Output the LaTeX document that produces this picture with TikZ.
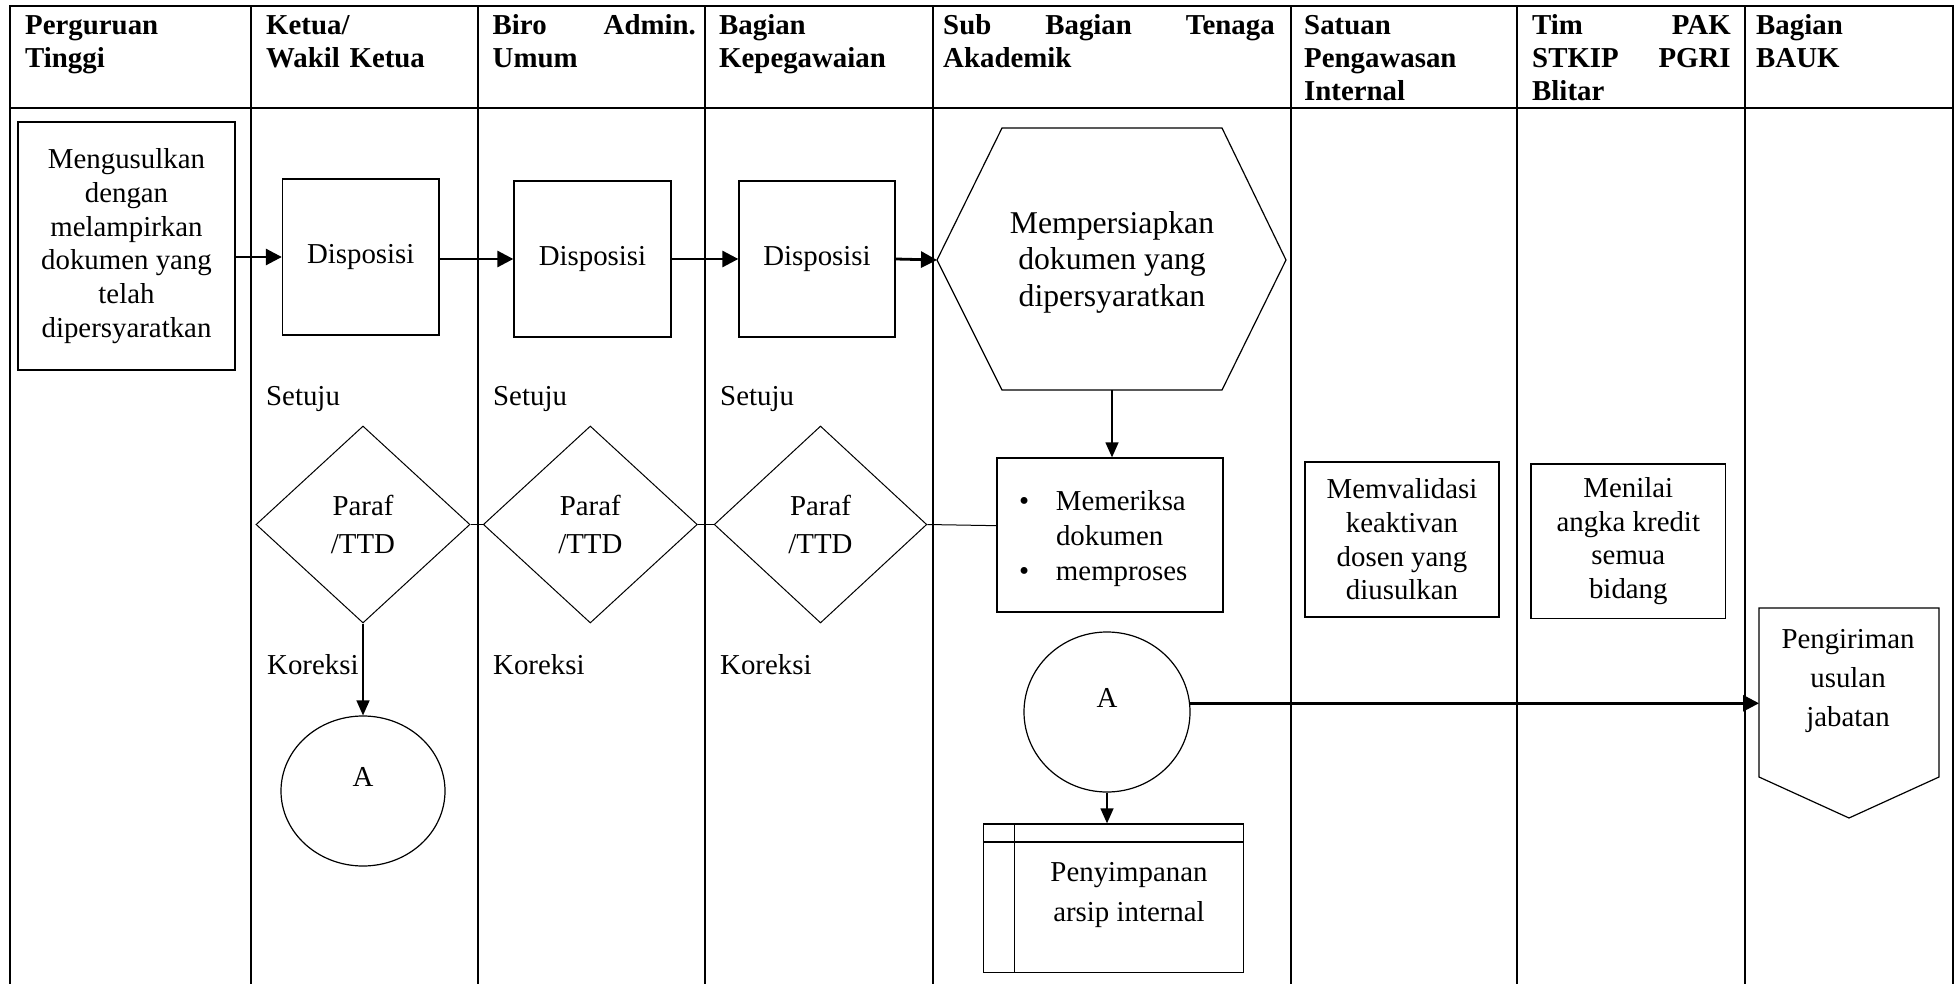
\documentclass[tikz,border=0pt]{standalone}
\usepackage{fontspec}
\setmainfont{Liberation Serif}
\usetikzlibrary{arrows.meta,shapes.geometric,calc}

\begin{document}
\begin{tikzpicture}[x=1pt,y=-1pt,
  txt/.style={inner sep=0pt, font=\fontsize{28.85}{33.7}\selectfont},
  head/.style={inner sep=0pt, anchor=base west, align=left,
    font=\fontsize{28.85}{33}\selectfont\bfseries},
  lane/.style={line width=2pt, line cap=rect},
  box/.style={draw, line width=1.3pt, inner sep=2pt, align=center,
    font=\fontsize{28.85}{33.7}\selectfont},
  dia/.style={diamond, draw, line width=1pt, inner sep=0pt, align=center,
    font=\fontsize{28.85}{38.7}\selectfont},
  circ/.style={ellipse, draw, line width=1.2pt, inner sep=0pt,
    text height=0pt, text depth=10pt, font=\fontsize{28.85}{33.7}\selectfont},
  shapeline/.style={line width=1.2pt, line join=miter},
  link/.style={line width=1pt},
  thickarr/.style={line width=2.8pt, -{Triangle[length=16pt,width=16pt]}},
  thinarr/.style={line width=1.4pt, -{Triangle[length=15pt,width=13pt]}}
]
\useasboundingbox (0,0) rectangle (1959,984);

% ---- swimlane table ----
\foreach \lx in {10,250.7,478.3,705,933,1290.7,1517.3,1745,1953.3}
  \draw[lane] (\lx,6) -- (\lx,984);
\draw[lane] (10,6) -- (1953.3,6);
\draw[lane] (10,108) -- (1953.3,108);

% ---- lane headers ----
\node[head, text width=213pt] (h1) at (25,35) {Perguruan\\Tinggi};
\node[head, text width=200pt] (h2) at (266,35) {Ketua/\\Wakil Ketua};
\node[head, text width=203.2pt] (h3) at (492.5,35) {Biro\hfill Admin.\\Umum};
\node[head, text width=200pt] (h4) at (719,35) {Bagian\\Kepegawaian};
\node[head, text width=331.5pt] (h5) at (943,35) {Sub\hfill Bagian\hfill Tenaga\\Akademik};
\node[head, text width=200pt] (h6) at (1304,35) {Satuan\\Pengawasan\\Internal};
\node[head, text width=198.5pt] (h7) at (1532,35) {Tim\hfill PAK\\STKIP\hfill PGRI\\Blitar};
\node[head, text width=185pt] (h8) at (1756,35) {Bagian\\BAUK};

% ---- submission and dispositions ----
\node[box, minimum width=217pt, minimum height=248pt] (usul) at (126.5,246)
  {Mengusulkan\\dengan\\melampirkan\\dokumen yang\\telah\\dipersyaratkan};
\node[box, minimum width=156.5pt, minimum height=156pt] (dis1) at (360.75,257) {Disposisi};
\node[box, minimum width=157pt, minimum height=156pt] (dis2) at (592.5,259) {Disposisi};
\node[box, minimum width=156pt, minimum height=156pt] (dis3) at (817,259) {Disposisi};

% ---- preparation (hexagon) ----
\coordinate (hxW) at (937,260);
\coordinate (hxNW) at (1002,128);
\coordinate (hxNE) at (1222,128);
\coordinate (hxE) at (1286,260);
\coordinate (hxSE) at (1222,390);
\coordinate (hxSW) at (1002,390);
\coordinate (hxS) at (1112,390);
\draw[shapeline] (hxW) -- (hxNW) -- (hxNE) -- (hxE) -- (hxSE) -- (hxSW) -- cycle;
% base anchor of a multi-line node sits on its last line
\node[inner sep=0pt, align=center, anchor=base, font=\fontsize{31.7}{36.8}\selectfont]
  (prep) at (1112,306.7) {Mempersiapkan\\dokumen yang\\dipersyaratkan};

\draw[thickarr] (usul.east |- dis1.west) -- (dis1.west);
\draw[thickarr] (dis1.east |- dis2.west) -- (dis2.west);
\draw[thickarr] (dis2.east) -- (dis3.west);
\draw[thickarr] (dis3.east) -- (hxW);

% ---- approval diamonds ----
\node[dia, minimum width=214pt, minimum height=197pt] (p1) at (363,524.5) {Paraf\\/TTD};
\node[dia, minimum width=214pt, minimum height=197pt] (p2) at (590.3,524.5) {Paraf\\/TTD};
\node[dia, minimum width=212.6pt, minimum height=197pt] (p3) at (820.5,524.5) {Paraf\\/TTD};

\node[txt, anchor=base west] (s1) at (266,405) {Setuju};
\node[txt, anchor=base west] (s2) at (493,405) {Setuju};
\node[txt, anchor=base west] (s3) at (720,405) {Setuju};
\node[txt, anchor=base west] (k1) at (267,674) {Koreksi};
\node[txt, anchor=base west] (k2) at (493,674) {Koreksi};
\node[txt, anchor=base west] (k3) at (720,674) {Koreksi};

% ---- checking / processing ----
\node[draw, line width=1.3pt, minimum width=226pt, minimum height=154pt,
  text width=182pt, inner xsep=22pt, inner ysep=2pt, align=left,
  font=\fontsize{28.85}{35}\selectfont] (chk) at (1110,535)
  {\rule{0pt}{28pt}\makebox[37pt][l]{\textbullet}Memeriksa\\\hspace*{37pt}dokumen\\\makebox[37pt][l]{\textbullet}memproses};

\draw[thinarr] (hxS) -- (hxS |- chk.north);
\draw[link] (p1.east) -- (p2.west);
\draw[link] (p2.east) -- (p3.west);
\draw[link] (p3.east) -- ($(chk.north west)!0.44!(chk.south west)$);

\node[box, minimum width=194pt, minimum height=155pt] (valid) at (1402,539.5)
  {Memvalidasi\\keaktivan\\dosen yang\\diusulkan};
\node[box, minimum width=194.7pt, minimum height=154.3pt] (nilai) at (1628.3,541.2)
  {Menilai\\angka kredit\\semua\\bidang};

% ---- connectors A ----
\node[circ, minimum width=164pt, minimum height=150pt] (a1) at (363,791) {A};
\draw[thinarr] (p1.south) -- (a1.north);

\node[circ, minimum width=166pt, minimum height=160pt] (a2) at (1107,712) {A};

% ---- internal archive ----
\node[draw, line width=1.3pt, minimum width=259.9pt, minimum height=148.7pt] (store) at (1113.55,898.35) {};
\draw[line width=1.8pt] ($(store.north west)+(0,18.7)$) -- ($(store.north east)+(0,18.7)$);
\draw[line width=1.3pt] ($(store.north west)+(31.8,0)$) -- ($(store.south west)+(31.8,0)$);
\node[inner sep=0pt, align=center, anchor=base, font=\fontsize{28.85}{40}\selectfont]
  (storetxt) at (1129,921.7) {Penyimpanan\\arsip internal};
\draw[thinarr] (a2.south) -- (a2.south |- store.north);

% ---- off-page sending ----
\coordinate (pgNW) at (1759,608);
\coordinate (pgNE) at (1939,608);
\coordinate (pgSE) at (1939,777);
\coordinate (pgTip) at (1849,818);
\coordinate (pgSW) at (1759,777);
\draw[shapeline] (pgNW) -- (pgNE) -- (pgSE) -- (pgTip) -- (pgSW) -- cycle;
\node[inner sep=0pt, align=center, anchor=base, font=\fontsize{28.85}{39}\selectfont]
  (send) at (1848,726) {Pengiriman\\usulan\\jabatan};
\draw[thickarr] (a2.6) -- (a2.6 -| pgNW);

\end{tikzpicture}
\end{document}
